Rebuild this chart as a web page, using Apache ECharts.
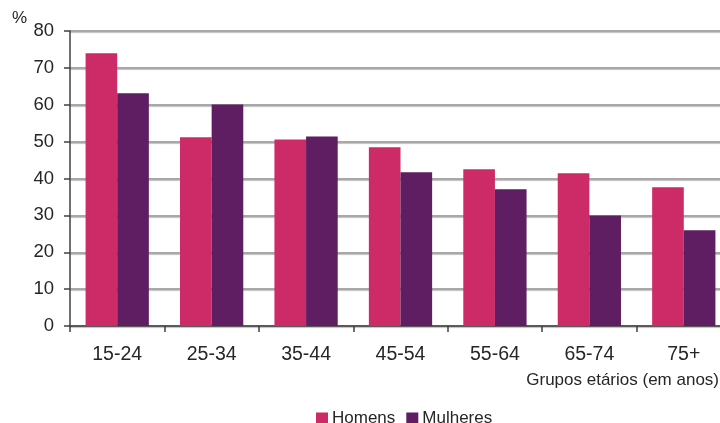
<!DOCTYPE html>
<html>
<head>
<meta charset="utf-8">
<script src="https://cdn.jsdelivr.net/npm/echarts@6/dist/echarts.min.js"></script>
<style>
  html, body { margin: 0; padding: 0; background: #fff; }
  #chart { width: 720px; height: 423px; }
</style>
</head>
<body>
<div id="chart"></div>
<script>
// Age groups and percentages by sex
const categories = ['15-24', '25-34', '35-44', '45-54', '55-64', '65-74', '75+'];
const homens = [74.0, 51.2, 50.6, 48.5, 42.5, 41.4, 37.6];
const mulheres = [63.1, 60.1, 51.4, 41.7, 37.1, 30.0, 26.0];
const seriesNames = ['Homens', 'Mulheres'];
const yTicks = [0, 10, 20, 30, 40, 50, 60, 70, 80];

const font = 'Liberation Sans, Arial, sans-serif';
const textColor = '#262626';

const chart = echarts.init(document.getElementById('chart'), null, { renderer: 'canvas' });

chart.setOption({
  animation: false,
  backgroundColor: '#ffffff',
  textStyle: { fontFamily: font },
  // plot area runs slightly past the right edge of the canvas
  grid: { left: 70, width: 661, top: 31, bottom: 97, containLabel: false, outerBoundsMode: 'none' },
  legend: {
    data: seriesNames,
    top: 405,
    left: 311,
    itemWidth: 12,
    itemHeight: 12,
    itemGap: 11,
    icon: 'rect',
    textStyle: { fontFamily: font, fontSize: 17, color: textColor, padding: [0, 0, 0, -1] }
  },
  graphic: [
    { type: 'text', left: 12, top: 10, style: { text: '%', font: '17px ' + font, fill: textColor } },
    { type: 'text', right: 1, top: 372, style: { text: 'Grupos etários (em anos)', font: '17px ' + font, fill: textColor } }
  ],
  xAxis: {
    type: 'category',
    data: categories,
    axisLine: { show: true, lineStyle: { color: '#404040', width: 1.5 } },
    axisTick: { show: true, alignWithLabel: false, length: 6, inside: false, lineStyle: { color: '#404040', width: 1.5 } },
    axisLabel: { fontFamily: font, fontSize: 19.5, color: textColor, margin: 19 },
    splitLine: { show: false }
  },
  yAxis: {
    type: 'value',
    min: yTicks[0],
    max: yTicks[yTicks.length - 1],
    interval: 10,
    axisLine: { show: true, lineStyle: { color: '#404040', width: 1.5 } },
    axisTick: { show: true, length: 6, lineStyle: { color: '#404040', width: 1.5 } },
    axisLabel: { fontFamily: font, fontSize: 18.5, color: textColor, margin: 16 },
    splitLine: {
      show: true,
      lineStyle: { color: '#a8a8a8', width: 2, shadowColor: 'rgba(0,0,0,0.25)', shadowBlur: 1, shadowOffsetY: 1 }
    }
  },
  series: [
    {
      name: seriesNames[0],
      type: 'bar',
      data: homens,
      barGap: '0%',
      barCategoryGap: '33%',
      itemStyle: { color: '#cd2a68' }
    },
    {
      name: seriesNames[1],
      type: 'bar',
      data: mulheres,
      barGap: '0%',
      barCategoryGap: '33%',
      itemStyle: { color: '#5f1e62' }
    }
  ]
});
</script>
</body>
</html>
